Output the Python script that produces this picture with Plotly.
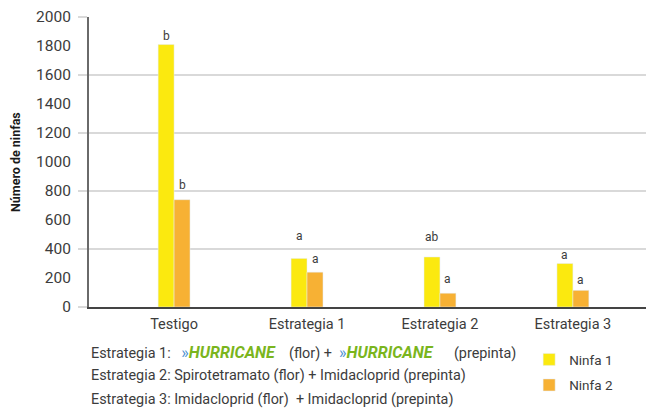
import plotly.graph_objects as go

# datos
categorias = ["Testigo", "Estrategia 1", "Estrategia 2", "Estrategia 3"]
ninfa1 = [1810, 335, 345, 300]
ninfa2 = [740, 240, 95, 115]
letras1 = ["b", "a", "ab", "a"]
letras2 = ["b", "a", "a", "a"]
y_ticks = list(range(0, 2001, 200))

AMARILLO = "#FBE90F"
NARANJA = "#F7B134"
TEXTO = "#3c3c3c"
FUENTE = "Roboto"

fig = go.Figure()

fig.add_trace(go.Bar(x=categorias, y=ninfa1, name="Ninfa 1",
                     marker_color=AMARILLO, legendgroup="n1"))
fig.add_trace(go.Bar(x=categorias, y=ninfa2, name="Ninfa 2",
                     marker_color=NARANJA, legendgroup="n2"))
# traza vacia para que se dibuje el eje de etiquetas (y2)
fig.add_trace(go.Scatter(x=categorias, y=[None] * len(categorias), yaxis="y2",
                         showlegend=False, hoverinfo="skip", mode="markers"))

# letras de significancia sobre cada barra
desp1 = [0, 13, 11, 0]
desp2 = [6, 4, 5, 1]
anots = []
for cat, v, t, d in zip(categorias, ninfa1, letras1, desp1):
    anots.append(dict(x=cat, y=v, text=t, xshift=-8, yshift=d, yanchor="bottom",
                      showarrow=False, font=dict(size=12, color=TEXTO)))
for cat, v, t, d in zip(categorias, ninfa2, letras2, desp2):
    anots.append(dict(x=cat, y=v, text=t, xshift=8, yshift=d, yanchor="bottom",
                      showarrow=False, font=dict(size=12, color=TEXTO)))

# titulo eje y
anots.append(dict(xref="paper", yref="paper", x=-0.131, y=0.5, text="<b>Número de ninfas</b>",
                  textangle=-90, showarrow=False, xanchor="center", yanchor="middle",
                  font=dict(size=12.5, color="#1a1a1a")))

# texto al pie
logo = ("<span style='color:#4a8fd0;font-size:16px'>»</span>"
        "<span style='color:#7ab51d;font-size:16px'><b><i>HURRICANE</i></b></span>")
pie = [
    f"Estrategia 1:   {logo}    (flor) +  {logo}      (prepinta)",
    "Estrategia 2: Spirotetramato (flor) + Imidacloprid (prepinta)",
    "Estrategia 3: Imidacloprid (flor)  + Imidacloprid (prepinta)",
]
for i, linea in enumerate(pie):
    anots.append(dict(xref="paper", yref="paper", x=0, y=(307 - 353 - 24 * i) / 296,
                      text=linea, showarrow=False, xanchor="left", yanchor="middle",
                      font=dict(size=14.4, color=TEXTO)))

fig.update_layout(
    width=646, height=406,
    margin=dict(l=81, r=0, t=3, b=107),
    paper_bgcolor="white", plot_bgcolor="white",
    font=dict(family=FUENTE, color=TEXTO, size=14),
    barmode="group", bargap=0.76, bargroupgap=0,
    xaxis=dict(range=[-0.64, 3.61], showline=True, linecolor="#444444", linewidth=1.5,
               ticks="outside", ticklen=3, tickcolor="rgba(0,0,0,0)",
               tickfont=dict(size=14.5, color=TEXTO)),
    yaxis=dict(range=[0, 2000], dtick=400, showgrid=True, gridcolor="#d9d9d9", gridwidth=1.5,
               ticks="outside", ticklen=9, tickcolor="#d9d9d9", tickwidth=1.5,
               showticklabels=False, showline=True, linecolor="#6a6a6a", linewidth=1.5,
               zeroline=False),
    yaxis2=dict(range=[0, 2000], tickvals=y_ticks, overlaying="y", side="left", anchor="x",
                showgrid=False, showline=False, zeroline=False, ticklabeloverflow="allow",
                ticks="outside", ticklen=14, tickcolor="rgba(0,0,0,0)",
                tickfont=dict(size=15.5, color=TEXTO)),
    legend=dict(x=0.779, y=-0.128, xanchor="left", yanchor="top",
                font=dict(size=13.5, color=TEXTO), tracegroupgap=5,
                bgcolor="rgba(0,0,0,0)"),
    annotations=anots,
)

fig.write_html("out.html")
